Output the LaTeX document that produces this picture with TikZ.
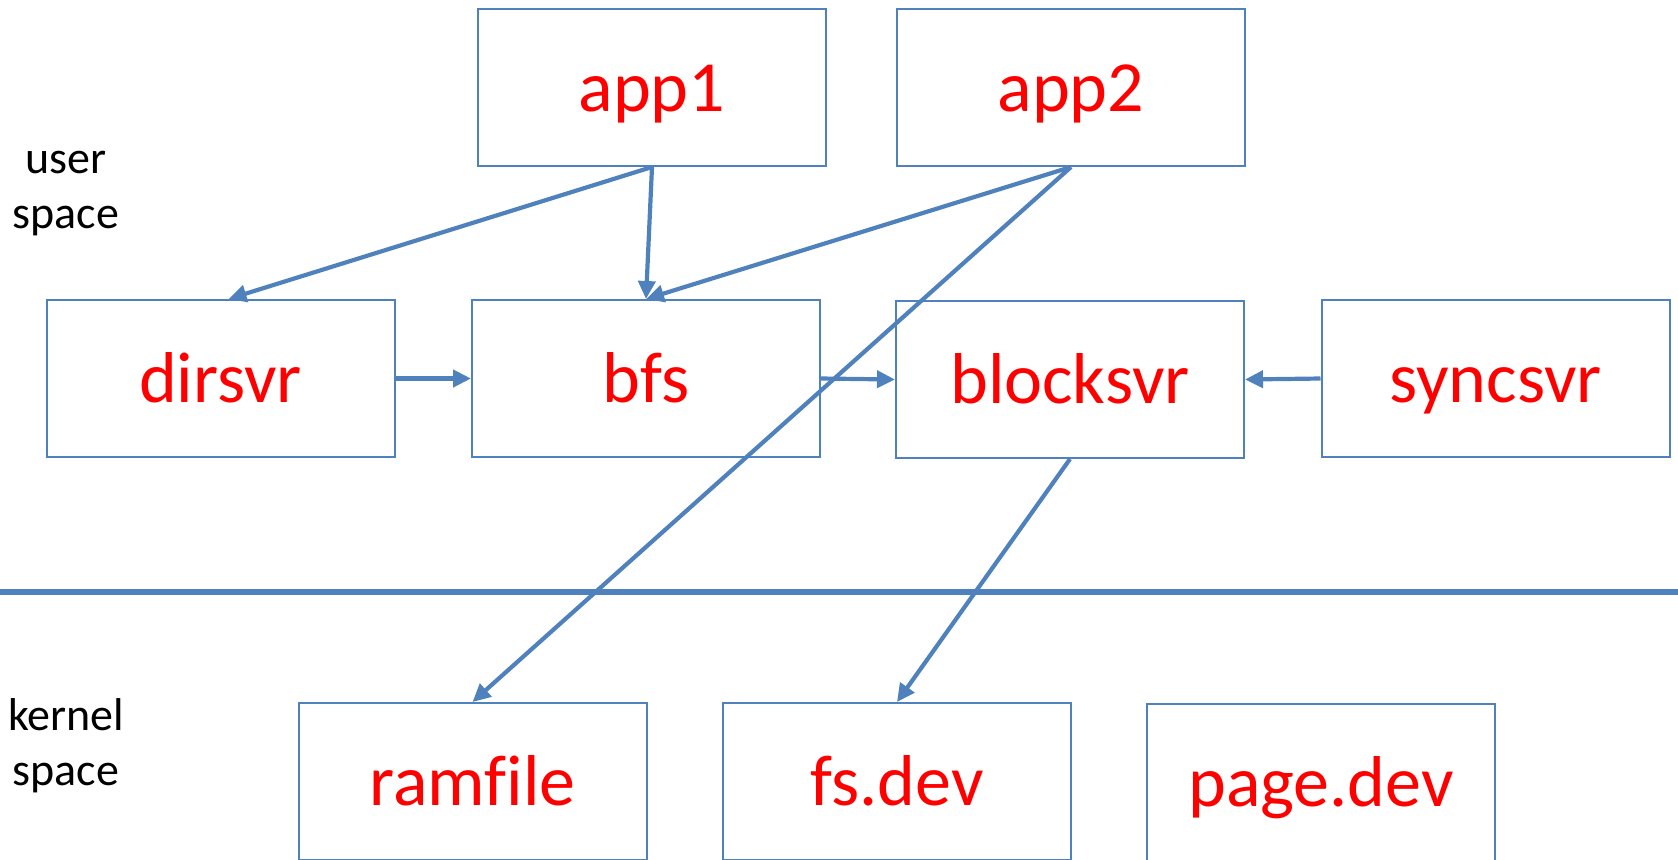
\documentclass[tikz,border=0pt]{standalone}
\usepackage{fontspec}
\setmainfont{Carlito}[Ligatures=NoCommon]
\usepackage{tikz}
\usetikzlibrary{arrows.meta}

\definecolor{boxblue}{RGB}{79,129,189}
\definecolor{lblred}{RGB}{255,0,0}

\tikzset{
  srv/.style={draw=boxblue, line width=1pt, minimum width=174pt, minimum height=78.5pt,
    inner sep=0pt, text=lblred, font=\fontsize{36}{40}\selectfont,
    text height=24pt, text depth=0pt},
  call/.style={draw=boxblue, line width=2.1pt, -{Triangle[length=9pt,width=8.5pt]}},
  side/.style={font=\fontsize{23}{27.5}\selectfont, align=center, inner sep=0pt}
}

\begin{document}
\begin{tikzpicture}[x=0.5pt,y=-0.5pt]
\useasboundingbox (0,0) rectangle (1678,859);
% apps on top
\node[srv] (app1) at (652,87.5) {app1};
\node[srv] (app2) at (1071,87.5) {app2};
% servers
\node[srv] (dirsvr) at (220.5,378.5) {dirsvr};
\node[srv] (bfs) at (646,378.5) {bfs};
\node[srv] (blocksvr) at (1070,379.5) {blocksvr};
\node[srv] (syncsvr) at (1495.5,378.5) {syncsvr};
% kernel side
\node[srv] (ramfile) at (472.5,781.5) {ramfile};
\node[srv] (fsdev) at (897,781.5) {fs.dev};
\node[srv] (pagedev) at (1321,782) {page.dev};
%Text
\node[side] (usr) at (66,194) {user\\space};
\node[side] (krn) at (66,746) {kernel\\space};
% boundary line
\coordinate (sepL) at (0,592);
\coordinate (sepR) at (1678,592);
\draw[boxblue, line width=2.75pt] (sepL) -- (sepR);
% calls
\draw[call] (app1.south) -- ([xshift=4pt]dirsvr.north);
\draw[call] (app1.south) -- (bfs.north);
\draw[call] (app2.south) -- (bfs.north);
\draw[call] (app2.south) -- (ramfile.north);
\draw[call] (dirsvr.east) -- (bfs.west);
\draw[call] (bfs.east) -- (blocksvr.west);
\draw[call] (syncsvr.west) -- (blocksvr.east);
\draw[call] (blocksvr.south) -- (fsdev.north);
\end{tikzpicture}
\end{document}
